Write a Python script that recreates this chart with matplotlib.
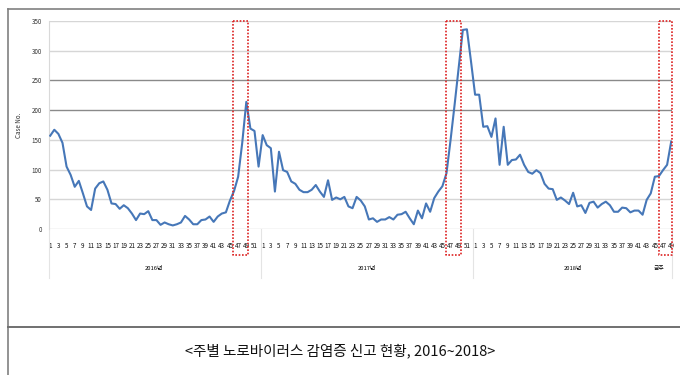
import matplotlib.pyplot as plt
from matplotlib.transforms import blended_transform_factory

plt.rcParams['font.family'] = ['Noto Sans CJK KR', 'DejaVu Sans']

# 주별 신고 건수 (읽은 값)
cases_2016 = [157, 167, 160, 145, 105, 91, 71, 81, 60, 38, 32, 68, 77, 80, 66, 43, 42, 34, 40, 35,
              26, 15, 26, 25, 30, 15, 15, 7, 11, 8, 6, 8, 11, 22, 16, 8, 8, 15, 16, 21,
              12, 21, 26, 28, 48, 64, 88, 145, 214, 169, 165, 105]
cases_2017 = [158, 141, 136, 63, 130, 99, 96, 80, 76, 66, 62, 62, 66, 74, 63, 54, 82, 49, 53, 50,
              54, 38, 35, 54, 48, 38, 16, 18, 12, 16, 16, 20, 16, 24, 25, 29, 18, 8, 31, 18,
              43, 29, 52, 63, 72, 94, 150, 210, 272, 335, 336, 282]
cases_2018 = [226, 226, 172, 173, 155, 186, 108, 172, 108, 116, 117, 125, 108, 96, 93, 99, 94, 76, 68, 67,
              49, 53, 48, 42, 61, 38, 40, 27, 44, 46, 36, 42, 46, 40, 29, 29, 36, 35, 28, 31,
              31, 24, 49, 60, 88, 89, 99, 108, 147]
years = ['2016년', '2017년', '2018년']
yticks = [0, 50, 100, 150, 200, 250, 300, 350]
# 빨간 점선 박스 (주 인덱스 범위)
boxes = [(44.7, 48.4), (96.9, 100.6), (148.9, 152.1)]

cases = cases_2016 + cases_2017 + cases_2018
weeks = list(range(1, len(cases_2016) + 1)) + list(range(1, len(cases_2017) + 1)) + \
    list(range(1, len(cases_2018) + 1))
idx = list(range(len(cases)))
starts = [0, len(cases_2016), len(cases_2016) + len(cases_2017), len(cases)]

W, H = 680, 375
fig = plt.figure(figsize=(W / 100, H / 100), dpi=100)
ax = fig.add_axes([49 / W, 1 - 229 / H, (672 - 49) / W, (229 - 21) / H])

for v in yticks:
    col = '#8a8a8a' if v in (200, 250) else '#d6d6d6'
    ax.axhline(v, color=col, lw=1.0, zorder=1)

ax.plot(idx, cases, color='#4677b8', lw=1.5, zorder=3)
ax.set_xlim(-0.3, len(cases) - 0.8)
ax.set_ylim(0, 350)
ax.set_yticks(yticks)
ax.set_yticklabels([str(v) for v in yticks], fontsize=4.5, color='#333333')
ax.set_xticks(idx[::2])
ax.set_xticklabels([str(w) for w in weeks[::2]], fontsize=4.5, color='#111111')
ax.tick_params(axis='x', length=0, pad=9)
ax.tick_params(axis='y', length=0, pad=5)
for s in ['top', 'right', 'bottom']:
    ax.spines[s].set_visible(False)
ax.spines['left'].set_color('#d9d9d9')
ax.set_ylabel('Case No.', fontsize=4.5, color='#333333', labelpad=6)

trans = blended_transform_factory(ax.transData, ax.transAxes)
# 연도 구분선과 연도 라벨
for b in [starts[0] - 0.3, starts[1] - 0.5, starts[2] - 0.5, len(cases) - 0.8]:
    ax.plot([b, b], [0, -0.235], transform=trans, color='#e4e4e4', lw=0.8, clip_on=False)
for k, name in enumerate(years):
    a = starts[k] - 0.5
    b = starts[k + 1] - 0.5
    ax.text((a + b) / 2, -0.19, name, transform=trans, fontsize=4.2, ha='center', va='center')
ax.text(len(cases) - 4, -0.19, '금주', transform=trans, fontsize=4.2, ha='center', va='center')

for x0, x1 in boxes:
    ax.plot([x0, x1, x1, x0, x0], [1.0, 1.0, -0.125, -0.125, 1.0], transform=trans,
            color='#dd2222', lw=1.2, ls=(0, (1, 1)), clip_on=False, zorder=4)

# 바깥 테두리
fig.add_artist(plt.Line2D([8 / W, 1], [1 - 9 / H, 1 - 9 / H], color='#808080', lw=1.2))
fig.add_artist(plt.Line2D([8 / W, 8 / W], [0, 1 - 9 / H], color='#808080', lw=1.2))
fig.add_artist(plt.Line2D([8 / W, 1], [1 - 327 / H, 1 - 327 / H], color='#707070', lw=1.4))

fig.text(340 / W, 1 - 351 / H, '<주별 노로바이러스 감염증 신고 현황, 2016~2018>',
         fontsize=10.5, ha='center', va='center', color='#111111')

fig.savefig('out.png', dpi=100)
